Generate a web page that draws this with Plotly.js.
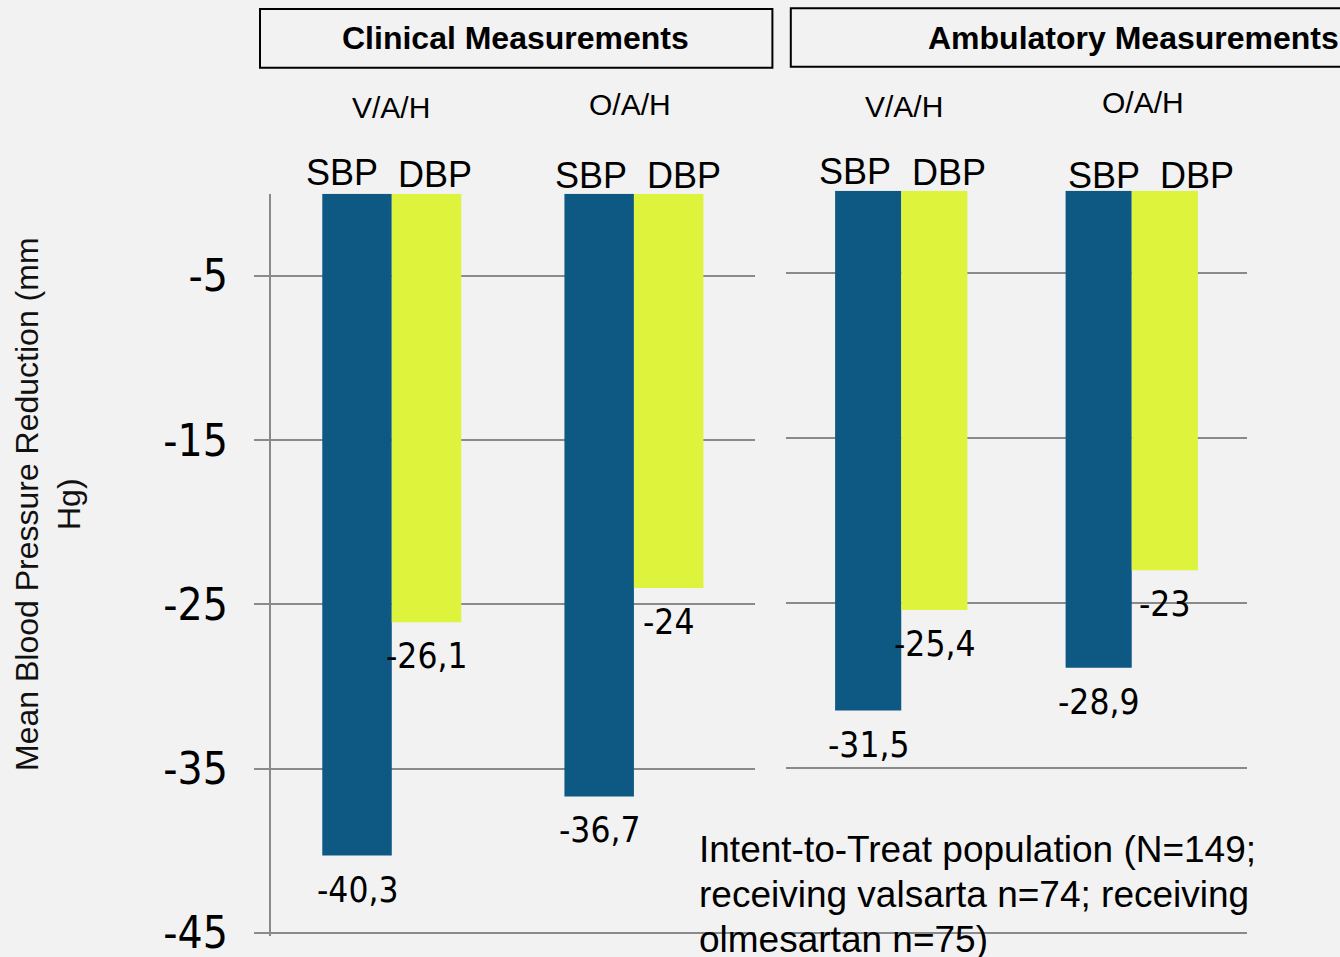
<!DOCTYPE html>
<html>
<head>
<meta charset="utf-8">
<script src="https://cdn.plot.ly/plotly-3.0.1.min.js"></script>
<style>html,body{margin:0;padding:0;background:#f2f2f2;overflow:hidden;}</style>
</head>
<body>
<div id="chart" style="width:1340px;height:957px;"></div>
<script>
// ---------- data ----------
const groups = ["V/A/H", "O/A/H"];
const seriesNames = ["SBP", "DBP"];
const clinicalSBP = [-40.3, -36.7];
const clinicalDBP = [-26.1, -24];
const ambulatorySBP = [-31.5, -28.9];
const ambulatoryDBP = [-25.4, -23];
const yTicks = [-5, -15, -25, -35, -45];
const panelTitles = ["Clinical Measurements", "Ambulatory Measurements"];
const yTitle = "Mean Blood Pressure Reduction (mm<br>Hg)";
const footnoteLines = [
  "Intent-to-Treat population (N=149;",
  "receiving valsarta n=74; receiving",
  "olmesartan n=75)"
];

// ---------- styling / layout helpers ----------
const W = 1340, H = 957;
const px = v => v / W;
const py = v => 1 - v / H;
const SBP_COLOR = "#0E5984";
const DBP_COLOR = "#DEF43C";
const GRID = "#8a8a8a";
const ARIAL = "Liberation Sans, Arial, sans-serif";
const COND = "DejaVu Sans Condensed, DejaVu Sans, sans-serif";
const BARGAP = 0.426;
const halfBar = (1 - BARGAP) / 4;
const fmt = v => String(v).replace(".", ",");

const traces = [
  {type: "bar", name: seriesNames[0], x: groups, y: clinicalSBP, xaxis: "x", yaxis: "y", marker: {color: SBP_COLOR, line: {width: 0}}, hoverinfo: "skip"},
  {type: "bar", name: seriesNames[1], x: groups, y: clinicalDBP, xaxis: "x", yaxis: "y", marker: {color: DBP_COLOR, line: {width: 0}}, hoverinfo: "skip"},
  {type: "bar", name: seriesNames[0], x: groups, y: ambulatorySBP, xaxis: "x2", yaxis: "y2", marker: {color: SBP_COLOR, line: {width: 0}}, hoverinfo: "skip"},
  {type: "bar", name: seriesNames[1], x: groups, y: ambulatoryDBP, xaxis: "x2", yaxis: "y2", marker: {color: DBP_COLOR, line: {width: 0}}, hoverinfo: "skip"}
];

const annotations = [];

// value labels under each bar end
const panels = [
  {xref: "x", yref: "y", sbp: clinicalSBP, dbp: clinicalDBP},
  {xref: "x2", yref: "y2", sbp: ambulatorySBP, dbp: ambulatoryDBP}
];
panels.forEach(p => {
  groups.forEach((g, i) => {
    [[p.sbp[i], -halfBar], [p.dbp[i], halfBar]].forEach(([v, off]) => {
      annotations.push({
        xref: p.xref, yref: p.yref, x: i + off, y: v,
        text: fmt(v), showarrow: false, xanchor: "center", yanchor: "middle",
        yshift: -34, font: {family: COND, size: 35, color: "#000"}
      });
    });
  });
});

// group labels (V/A/H, O/A/H) and SBP/DBP labels
const groupLabelPos = [
  {xref: "x", i: 0, dx: -1, y: 107.5, sbp: [-50, 173], dbp: [43, 174.7]},
  {xref: "x", i: 1, dx: -4, y: 104, sbp: [-42.5, 175.8], dbp: [50, 175.8]},
  {xref: "x2", i: 0, dx: 3, y: 106.7, sbp: [-46.6, 171.7], dbp: [47.4, 173]},
  {xref: "x2", i: 1, dx: 11, y: 102.3, sbp: [-27.4, 175.8], dbp: [65.3, 175.8]}
];
groupLabelPos.forEach(gp => {
  annotations.push({
    xref: gp.xref, yref: "paper", x: gp.i, y: py(gp.y), xshift: gp.dx,
    text: groups[gp.i], showarrow: false, xanchor: "center", yanchor: "middle",
    font: {family: ARIAL, size: 30, color: "#000"}
  });
  annotations.push({
    xref: gp.xref, yref: "paper", x: gp.i, y: py(gp.sbp[1]), xshift: gp.sbp[0],
    text: seriesNames[0], showarrow: false, xanchor: "center", yanchor: "middle",
    font: {family: ARIAL, size: 36, color: "#000"}
  });
  annotations.push({
    xref: gp.xref, yref: "paper", x: gp.i, y: py(gp.dbp[1]), xshift: gp.dbp[0],
    text: seriesNames[1], showarrow: false, xanchor: "center", yanchor: "middle",
    font: {family: ARIAL, size: 36, color: "#000"}
  });
});

// panel titles
annotations.push({xref: "paper", yref: "paper", x: px(515.5), y: py(38.3), text: "<b>" + panelTitles[0] + "</b>",
  showarrow: false, xanchor: "center", yanchor: "middle", font: {family: ARIAL, size: 32, color: "#000"}});
annotations.push({xref: "paper", yref: "paper", x: px(926), y: py(38.3), text: "<b>" + panelTitles[1] + "</b>",
  showarrow: false, xanchor: "left", yanchor: "middle", font: {family: ARIAL, size: 32, color: "#000"}});

// y-axis title
annotations.push({xref: "paper", yref: "paper", x: px(48), y: py(504), text: yTitle, textangle: -90,
  showarrow: false, xanchor: "center", yanchor: "middle", font: {family: ARIAL, size: 32, color: "#111"}});

// footnote (one annotation per line so the line spacing matches)
footnoteLines.forEach((t, k) => {
  annotations.push({xref: "paper", yref: "paper", x: px(697), y: py(849.5 + 45 * k), text: t, align: "left",
    showarrow: false, xanchor: "left", yanchor: "middle", font: {family: ARIAL, size: 37, color: "#000"}});
});

const catAxis = {
  type: "category", categoryorder: "array", categoryarray: groups, range: [-0.5, 1.5],
  showticklabels: false, showgrid: false, zeroline: false, showline: false, ticks: "", fixedrange: true
};
const valAxis = {
  range: [-45.2, 0], tickvals: yTicks, ticktext: yTicks.map(String),
  showgrid: true, gridcolor: GRID, gridwidth: 2, zeroline: false, fixedrange: true
};

const layout = {
  width: W, height: H, autosize: false,
  margin: {l: 0, r: 0, t: 0, b: 0, pad: 0},
  paper_bgcolor: "#f2f2f2", plot_bgcolor: "#f2f2f2",
  showlegend: false,
  barmode: "group", bargap: BARGAP, bargroupgap: 0,
  xaxis: Object.assign({}, catAxis, {domain: [px(270.7), px(755)], anchor: "y"}),
  xaxis2: Object.assign({}, catAxis, {domain: [px(786), px(1247)], anchor: "y2"}),
  yaxis: Object.assign({}, valAxis, {
    domain: [py(936.0), py(193.8)], anchor: "x",
    showline: true, linecolor: GRID, linewidth: 2,
    ticks: "outside", ticklen: 15, tickwidth: 2, tickcolor: GRID,
    showticklabels: true, ticklabelstandoff: 17, ticklabeloverflow: "allow",
    tickfont: {family: COND, size: 44, color: "#000"}
  }),
  yaxis2: Object.assign({}, valAxis, {
    domain: [py(936.6), py(190.8)], anchor: "x2",
    showline: false, ticks: "", showticklabels: false
  }),
  shapes: [
    {type: "rect", xref: "paper", yref: "paper", x0: px(260), x1: px(772.4), y0: py(67.7), y1: py(9),
      line: {color: "#000", width: 2}, fillcolor: "rgba(0,0,0,0)"},
    {type: "rect", xref: "paper", yref: "paper", x0: px(790.8), x1: px(1352), y0: py(66.7), y1: py(8.3),
      line: {color: "#000", width: 2}, fillcolor: "rgba(0,0,0,0)"}
  ],
  annotations: annotations
};

Plotly.newPlot("chart", traces, layout, {displayModeBar: false, staticPlot: true});
</script>
</body>
</html>
